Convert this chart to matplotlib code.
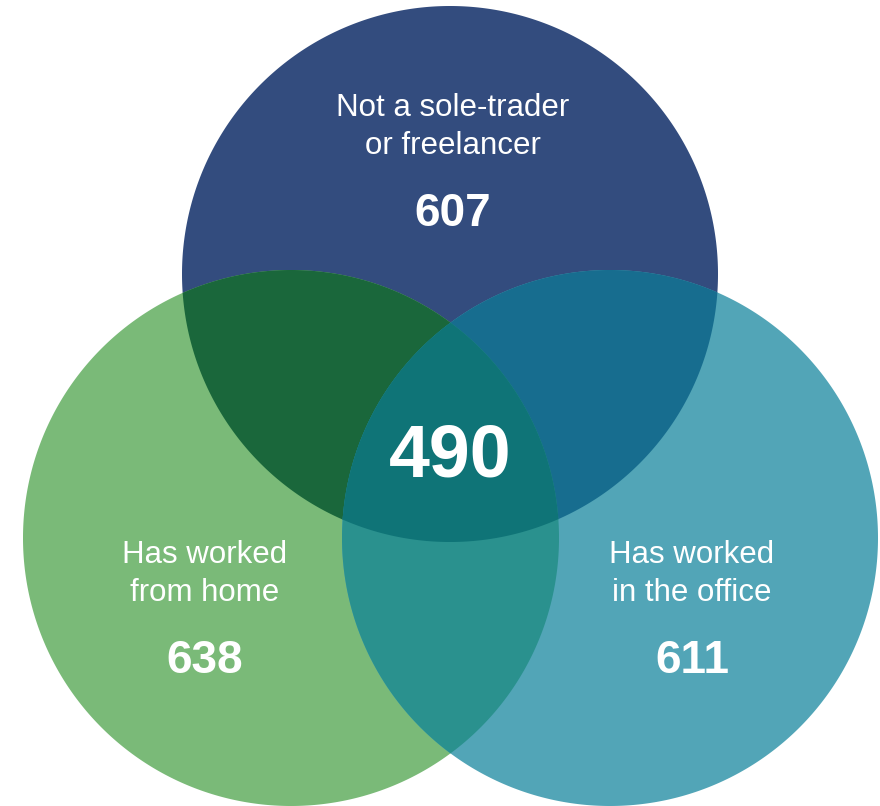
import numpy as np
import matplotlib
matplotlib.use("Agg")
import matplotlib.pyplot as plt
from matplotlib.patches import Polygon

# Set labels and counts
set_labels = ["Not a sole-trader\nor freelancer", "Has worked\nfrom home", "Has worked\nin the office"]
set_counts = [607, 638, 611]
all_three_count = 490

# Circle layout (pixel coordinates, y downward)
centers = [(450, 274), (291, 538), (610, 538)]
radius = 268

# Region colours
base_colors = ["#334C7E", "#7ABA78", "#52A5B7"]
pair_colors = {(0, 1): "#1A673B", (0, 2): "#176D8F", (1, 2): "#2A918E"}
triple_color = "#0F7477"


def circle_poly(c, r, n=720):
    t = np.linspace(0, 2 * np.pi, n, endpoint=False)
    return np.column_stack([c[0] + r * np.cos(t), c[1] + r * np.sin(t)])


def clip_convex(subject, clipper):
    """Sutherland-Hodgman intersection of two convex polygons."""
    def inside(p, a, b):
        return (b[0] - a[0]) * (p[1] - a[1]) - (b[1] - a[1]) * (p[0] - a[0]) >= 0

    def intersect(p1, p2, a, b):
        x1, y1 = p1; x2, y2 = p2; x3, y3 = a; x4, y4 = b
        den = (x1 - x2) * (y3 - y4) - (y1 - y2) * (x3 - x4)
        t = ((x1 - x3) * (y3 - y4) - (y1 - y3) * (x3 - x4)) / den
        return (x1 + t * (x2 - x1), y1 + t * (y2 - y1))

    out = [tuple(p) for p in subject]
    m = len(clipper)
    for i in range(m):
        a, b = clipper[i], clipper[(i + 1) % m]
        inp = out
        out = []
        if not inp:
            break
        s = inp[-1]
        for e in inp:
            if inside(e, a, b):
                if not inside(s, a, b):
                    out.append(intersect(s, e, a, b))
                out.append(e)
            elif inside(s, a, b):
                out.append(intersect(s, e, a, b))
            s = e
    return np.array(out)


fig = plt.figure(figsize=(8.8, 8.06), dpi=100)
ax = fig.add_axes([0, 0, 1, 1])
ax.set_xlim(0, 880)
ax.set_ylim(806, 0)
ax.set_aspect("equal")
ax.axis("off")

polys = [circle_poly(c, radius) for c in centers]

for p, col in zip(polys, base_colors):
    ax.add_patch(Polygon(p, closed=True, facecolor=col, edgecolor="none", zorder=1))

for (i, j), col in pair_colors.items():
    lens = clip_convex(polys[i], polys[j])
    ax.add_patch(Polygon(lens, closed=True, facecolor=col, edgecolor="none", zorder=2))

core = clip_convex(clip_convex(polys[0], polys[1]), polys[2])
ax.add_patch(Polygon(core, closed=True, facecolor=triple_color, edgecolor="none", zorder=3))

font = ["Liberation Sans", "DejaVu Sans"]
label_pos = [(453, 127), (205, 574), (692, 574)]
count_pos = [(453, 214), (205, 661), (692, 661)]

for lab, (x, y) in zip(set_labels, label_pos):
    ax.text(x, y, lab, ha="center", va="center", color="white", fontsize=22.5,
            family=font, linespacing=1.36, zorder=5)

for n, (x, y) in zip(set_counts, count_pos):
    ax.text(x, y, f"{n}", ha="center", va="center", color="white", fontsize=33,
            fontweight="bold", family=font, zorder=5)

ax.text(450, 457, f"{all_three_count}", ha="center", va="center", color="white",
        fontsize=53, fontweight="bold", family=font, zorder=5)

fig.savefig("out.png", dpi=100, facecolor="white")
